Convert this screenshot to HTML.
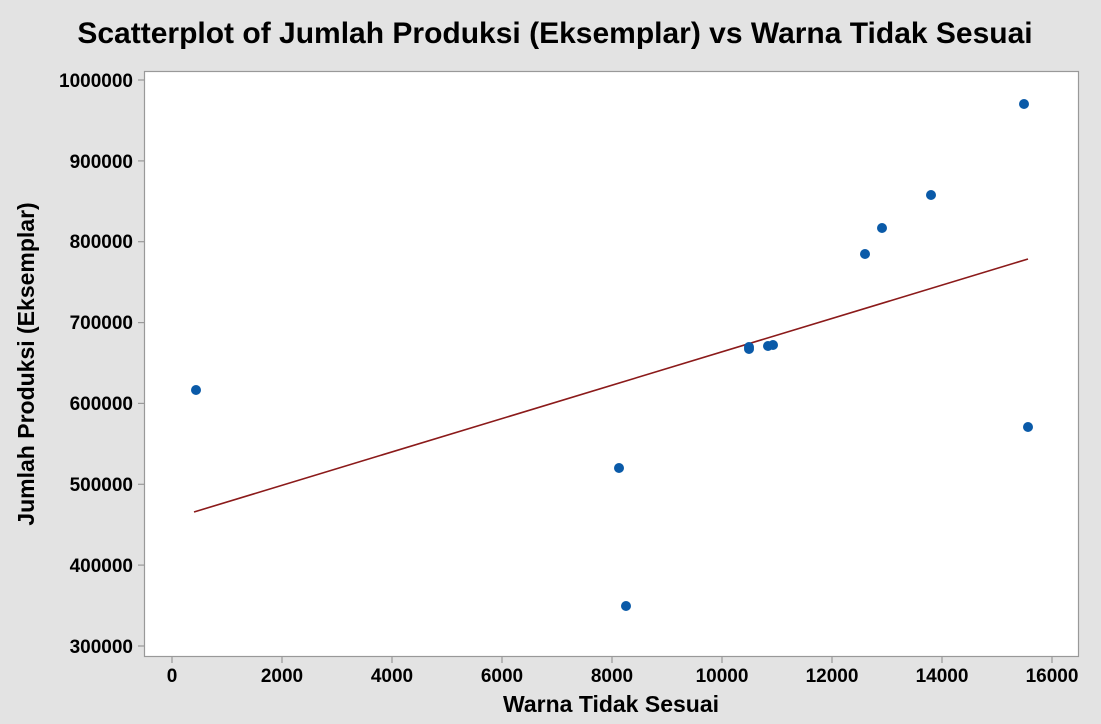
<!DOCTYPE html>
<html><head><style>
body{margin:0;background:#e3e3e3;}
svg{display:block;font-family:"Liberation Sans",sans-serif;}
</style></head><body>
<svg width="1101" height="724" xmlns="http://www.w3.org/2000/svg">
<rect width="1101" height="724" fill="#e3e3e3"/>
<text x="555" y="43" font-size="30" font-weight="bold" text-anchor="middle" fill="#000">Scatterplot of Jumlah Produksi (Eksemplar) vs Warna Tidak Sesuai</text>
<rect x="144.5" y="71.5" width="934" height="585" fill="#fff" stroke="#999" stroke-width="1.2"/>
<g stroke="#999" stroke-width="1.2">
<line x1="138" x2="144.5" y1="646" y2="646"/><line x1="138" x2="144.5" y1="565.1" y2="565.1"/>
<line x1="138" x2="144.5" y1="484.3" y2="484.3"/><line x1="138" x2="144.5" y1="403.4" y2="403.4"/>
<line x1="138" x2="144.5" y1="322.6" y2="322.6"/><line x1="138" x2="144.5" y1="241.7" y2="241.7"/>
<line x1="138" x2="144.5" y1="160.9" y2="160.9"/><line x1="138" x2="144.5" y1="80" y2="80"/>
<line y1="656.5" y2="663" x1="172" x2="172"/><line y1="656.5" y2="663" x1="282" x2="282"/>
<line y1="656.5" y2="663" x1="392" x2="392"/><line y1="656.5" y2="663" x1="502" x2="502"/>
<line y1="656.5" y2="663" x1="612" x2="612"/><line y1="656.5" y2="663" x1="722" x2="722"/>
<line y1="656.5" y2="663" x1="832" x2="832"/><line y1="656.5" y2="663" x1="942" x2="942"/>
<line y1="656.5" y2="663" x1="1052" x2="1052"/>
</g>
<g font-size="19" text-anchor="end" fill="#000" font-weight="600">
<text x="133" y="653">300000</text><text x="133" y="572">400000</text><text x="133" y="491">500000</text>
<text x="133" y="410">600000</text><text x="133" y="329">700000</text><text x="133" y="248">800000</text>
<text x="133" y="168">900000</text><text x="133" y="87">1000000</text>
</g>
<g font-size="19" text-anchor="middle" fill="#000" font-weight="600">
<text x="172" y="682">0</text><text x="282" y="682">2000</text><text x="392" y="682">4000</text>
<text x="502" y="682">6000</text><text x="612" y="682">8000</text><text x="722" y="682">10000</text>
<text x="832" y="682">12000</text><text x="942" y="682">14000</text><text x="1052" y="682">16000</text>
</g>
<text x="611" y="712" font-size="23" font-weight="bold" text-anchor="middle">Warna Tidak Sesuai</text>
<text transform="translate(34,364) rotate(-90)" font-size="23" font-weight="bold" text-anchor="middle">Jumlah Produksi (Eksemplar)</text>
<line x1="194" y1="512" x2="1028" y2="259" stroke="#8b1a1a" stroke-width="1.6"/>
<g fill="#0a5aa8">
<circle cx="1024" cy="104" r="5"/><circle cx="931" cy="195" r="5"/><circle cx="882" cy="228" r="5"/>
<circle cx="865" cy="254" r="5"/><circle cx="749" cy="347" r="5"/><circle cx="749" cy="349" r="5"/>
<circle cx="768" cy="346" r="5"/><circle cx="773" cy="345" r="5"/><circle cx="196" cy="390" r="5"/>
<circle cx="619" cy="468" r="5"/><circle cx="1028" cy="427" r="5"/><circle cx="626" cy="606" r="5"/>
</g>
</svg>
</body></html>
